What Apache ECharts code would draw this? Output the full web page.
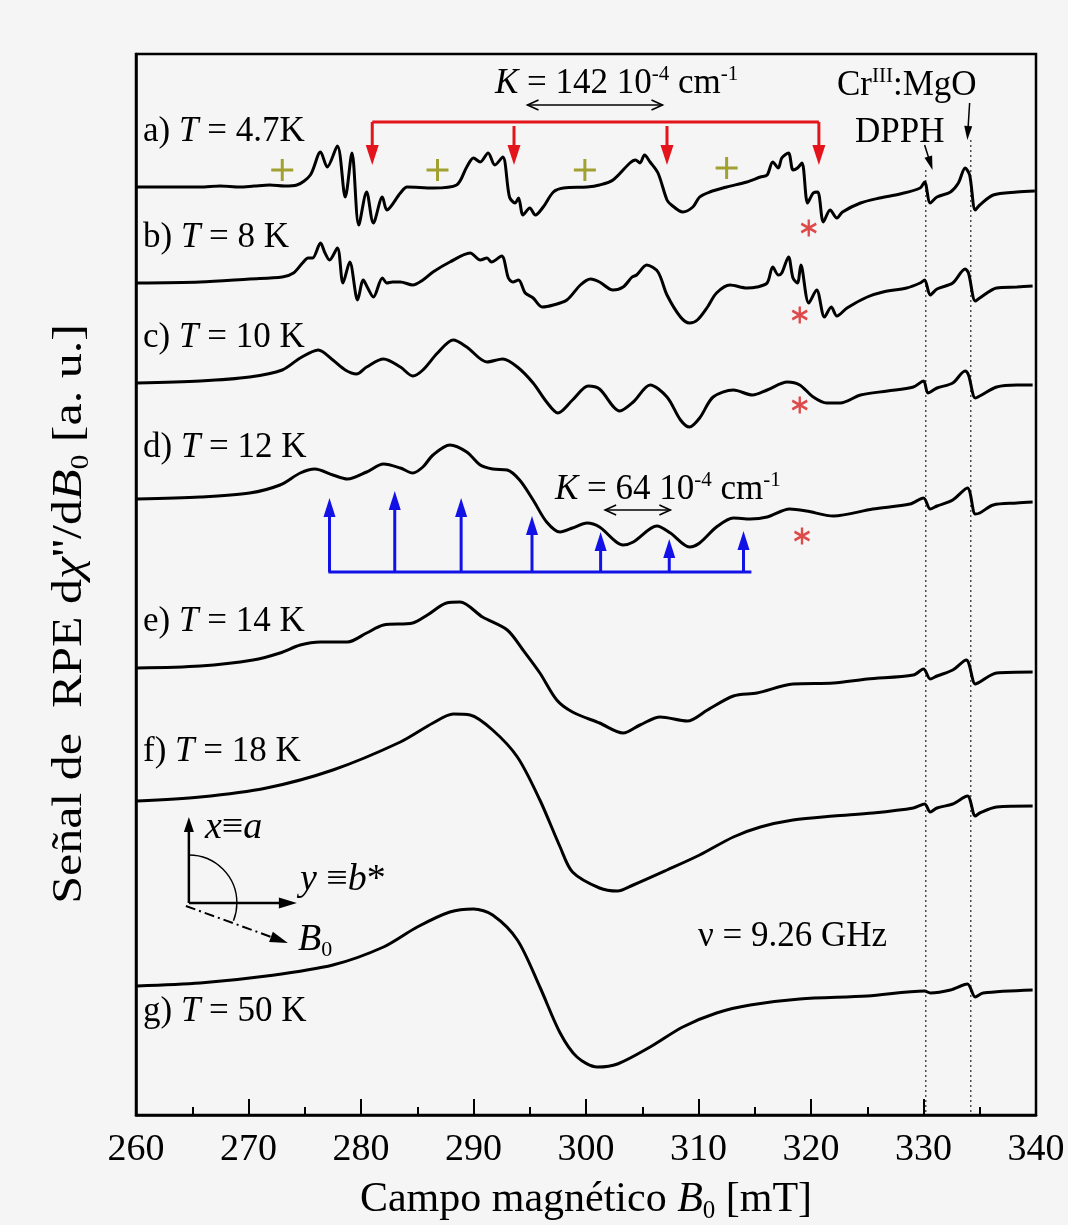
<!DOCTYPE html>
<html><head><meta charset="utf-8">
<script src="https://cdn.jsdelivr.net/npm/echarts@6/dist/echarts.min.js"></script>
<style>html,body{margin:0;padding:0;background:#f5f5f5}#c{width:1068px;height:1225px}</style>
</head><body><div id="c"></div>
<script>
// ---- data (field B in mT, signal in a.u. relative to each trace's baseline) ----
const xMin = 260, xMax = 340, xStep = 10;
const traceA = [[260.0,0],[265.7,0],[267.5,1],[269.2,0],[270.5,1],[271.9,2],[273.2,1],[274.3,2],[275.5,12],[276.4,35],[277.0,20],[277.9,41],[278.6,-10],[279.2,34],[279.8,-38],[280.5,-5],[281.1,-36],[281.9,-10],[282.3,-23],[283.5,-6],[284.1,0],[286.4,-1],[288.5,2],[289.4,20],[290.0,29],[290.6,25],[291.3,34],[291.9,22],[292.6,30],[293.2,-10],[293.7,-16],[294.0,-11],[294.4,-28],[295.0,-21],[295.5,-28],[296.2,-20],[297.1,-5],[298.0,-1],[300.1,0],[301.2,2],[302.4,7],[303.9,24],[304.4,27],[304.8,24],[305.2,32],[305.7,25],[306.4,14],[307.2,-13],[307.6,-18],[308.6,-25],[309.5,-20],[310.1,-10],[311.0,-5],[312.5,0],[314.3,5],[315.5,10],[316.1,12],[316.6,25],[317.1,19],[317.4,29],[318.0,34],[318.4,17],[318.8,19],[319.2,24],[319.7,-16],[320.2,-6],[320.6,-5],[321.1,-35],[321.7,-23],[322.3,-31],[322.8,-25],[324.4,-16],[326.1,-11],[327.9,-7],[329.7,-1],[330.1,5],[330.6,-16],[331.2,-10],[332.4,-5],[333.1,4],[333.7,19],[334.1,12],[334.6,-23],[335.0,-18],[336.2,-8],[338.3,-5],[339.9,-4]];
const traceB = [[260.1,0],[265.7,1],[270.1,4],[273.0,6],[274.0,10],[274.8,20],[275.3,25],[275.7,25],[276.4,40],[276.8,30],[277.2,23],[277.9,35],[278.4,0],[279.0,21],[279.7,-17],[280.2,3],[280.6,-5],[281.1,-14],[281.9,5],[282.3,0],[282.8,1],[283.5,1],[284.6,-2],[285.5,3],[286.4,11],[287.9,21],[289.7,30],[290.6,23],[291.2,25],[291.6,21],[292.5,27],[293.1,5],[293.5,1],[294.0,3],[294.6,-10],[295.3,-15],[296.1,-24],[297.1,-22],[298.3,-17],[299.5,-2],[300.4,4],[301.2,1],[302.4,-7],[303.3,-4],[304.1,6],[304.5,8],[305.4,18],[306.4,11],[307.2,-12],[308.4,-34],[309.2,-40],[309.9,-37],[310.8,-24],[311.6,-10],[312.8,-2],[314.3,-5],[315.2,-4],[316.1,0],[316.6,16],[317.1,8],[317.4,10],[318.0,26],[318.4,5],[318.8,0],[319.1,18],[319.8,-20],[320.5,-7],[321.2,-34],[321.8,-24],[322.3,-33],[323.2,-25],[325.0,-14],[326.4,-9],[328.5,-5],[329.7,0],[330.1,3],[330.6,-12],[331.2,-6],[332.6,0],[333.7,14],[334.0,10],[334.6,-18],[335.0,-15],[336.5,-5],[338.3,-4],[339.7,-3]];
const traceC = [[260.1,0],[265.7,2],[270.1,6],[273.0,13],[274.6,25],[276.2,33],[277.5,23],[278.6,13],[279.6,9],[280.5,16],[282.0,24],[283.5,16],[284.6,7],[285.5,13],[286.8,30],[288.2,43],[289.4,36],[291.2,21],[292.6,24],[293.9,16],[295.3,0],[296.5,-19],[297.5,-30],[298.8,-17],[300.2,-3],[301.2,-6],[303.0,-28],[304.2,-19],[305.7,-2],[307.2,-14],[308.4,-37],[309.2,-44],[310.1,-35],[311.3,-14],[313.1,-7],[314.8,-12],[316.1,-7],[317.9,1],[319.0,-2],[320.2,-14],[321.4,-20],[322.6,-20],[324.4,-12],[326.8,-8],[329.1,-4],[330.0,2],[330.4,-10],[331.2,-5],[332.6,0],[333.7,12],[334.0,8],[334.6,-15],[335.0,-13],[336.5,-4],[338.3,-2],[339.7,-2]];
const traceD = [[260.1,0],[265.7,2],[270.1,6],[272.8,14],[274.6,26],[275.9,30],[277.5,24],[278.8,20],[280.5,27],[282.0,35],[283.5,31],[284.6,26],[285.5,32],[286.4,44],[287.9,54],[289.4,47],[290.6,34],[291.7,30],[293.0,29],[294.1,19],[295.3,-1],[296.5,-23],[297.7,-33],[298.8,-29],[300.1,-24],[301.2,-28],[303.3,-46],[304.2,-43],[306.3,-27],[307.5,-34],[309.2,-48],[310.1,-44],[311.6,-28],[313.1,-19],[314.6,-20],[316.1,-18],[318.1,-10],[319.6,-12],[322.0,-17],[325.5,-10],[328.8,-5],[330.0,1],[330.6,-10],[331.2,-7],[332.6,-1],[333.9,11],[334.6,-15],[335.0,-14],[336.2,-6],[338.3,-4],[339.7,-3]];
const traceE = [[260.1,0],[265.7,2],[270.4,8],[272.8,15],[274.6,23],[276.4,26],[278.8,26],[280.5,35],[282.0,43],[284.6,45],[285.9,53],[287.6,65],[288.8,66],[290.8,51],[293.0,38],[294.4,18],[295.9,-5],[297.4,-32],[298.8,-44],[301.2,-55],[303.3,-65],[304.8,-57],[306.6,-49],[309.0,-53],[310.8,-42],[313.1,-28],[315.2,-25],[318.4,-16],[322.0,-15],[325.0,-11],[329.1,-7],[330.0,-1],[330.6,-11],[331.2,-8],[332.6,-2],[333.8,8],[334.6,-16],[335.0,-14],[336.5,-5],[339.7,-4]];
const traceF = [[260.1,0],[265.7,4],[271.6,13],[277.5,31],[283.5,59],[286.4,78],[288.2,87],[289.7,86],[291.7,71],[293.9,44],[295.9,1],[297.7,-46],[298.8,-71],[301.2,-87],[302.8,-90],[304.2,-84],[307.2,-69],[310.1,-54],[313.1,-36],[315.5,-26],[318.4,-19],[322.0,-15],[325.5,-12],[329.1,-7],[330.1,-3],[330.6,-11],[331.2,-7],[332.6,-3],[333.9,5],[334.6,-15],[335.0,-12],[336.5,-6],[339.7,-5]];
const traceG = [[260.1,0],[265.7,3],[271.6,10],[277.5,21],[282.0,39],[285.0,59],[287.9,74],[290.0,77],[291.7,71],[293.9,46],[295.9,-1],[297.7,-47],[299.2,-71],[301.0,-81],[302.8,-78],[305.7,-61],[308.6,-41],[311.6,-27],[314.6,-19],[319.0,-13],[325.0,-10],[330.1,-5],[330.6,-7],[332.4,-4],[333.9,2],[334.6,-11],[335.3,-7],[339.7,-4]];
const traces = [traceA, traceB, traceC, traceD, traceE, traceF, traceG];
const offsets = [928, 832, 732, 616, 447, 314, 129];
const letters = ['a', 'b', 'c', 'd', 'e', 'f', 'g'];
const temps = ['4.7K', '8 K', '10 K', '12 K', '14 K', '18 K', '50 K'];
// hyperfine markers
const redArrowsB = [281.0, 293.6, 307.2, 320.7];
const plusB = [273.0, 286.8, 299.9, 312.5];
const plusV = [945, 945, 945, 947];
const starB = [319.8, 319.0, 319.0, 319.2];
const starV = [887, 800, 710, 579];
const blueSticksB = [277.2, 283.0, 288.9, 295.2, 301.3, 307.4, 314.0];
const blueSticksH = [74, 81, 74, 56, 40, 33, 41];
const dpphB = 330.2, crB = 334.2;

const FF = "'Liberation Serif','Times New Roman',serif";
const chart = echarts.init(document.getElementById('c'));
const series = traces.map((t, i) => ({
  type: 'line', data: t.map(p => [p[0], p[1] + offsets[i]]), symbol: 'none', smooth: 0.3,
  lineStyle: { color: '#000', width: 3 }, silent: true, z: 3
}));
series.push({
  type: 'scatter', data: plusB.map((b, i) => [b, plusV[i]]), symbol: 'path://M0,-10L0,10M-10,0L10,0',
  symbolSize: 22, itemStyle: { color: 'rgba(0,0,0,0)', borderColor: '#8c8c00', borderWidth: 3 }, silent: true, z: 4
});
series.push({
  type: 'scatter', data: starB.map((b, i) => [b, starV[i]]), symbol: 'path://M0,-10L0,10M-8.66,-5L8.66,5M-8.66,5L8.66,-5',
  symbolSize: [15, 17], itemStyle: { color: 'rgba(0,0,0,0)', borderColor: '#d81e1e', borderWidth: 2.5 }, silent: true, z: 4
});
chart.setOption({
  backgroundColor: '#f5f5f5',
  animation: false,
  grid: { left: 136, right: 32, top: 54, bottom: 110, show: true, borderColor: '#000', borderWidth: 2.5, backgroundColor: 'rgba(0,0,0,0)' },
  xAxis: {
    type: 'value', min: xMin, max: xMax, interval: xStep,
    axisLine: { lineStyle: { color: '#000', width: 2.5 } },
    axisTick: { inside: true, length: 16, lineStyle: { color: '#000', width: 2 } },
    minorTick: { show: true, splitNumber: 2, length: 8, lineStyle: { color: '#000', width: 2 } },
    splitLine: { show: false }, minorSplitLine: { show: false },
    axisLabel: { fontSize: 38, fontFamily: FF, color: '#000', margin: 16 }
  },
  yAxis: {
    type: 'value', min: 0, max: 1061,
    axisLine: { show: true, lineStyle: { color: '#000', width: 2.5 } },
    axisTick: { show: false }, axisLabel: { show: false }, splitLine: { show: false }
  },
  series
});

const P = (b, v) => chart.convertToPixel({ xAxisIndex: 0, yAxisIndex: 0 }, [b, v]);
const G = [];
function arrow(from, tip, color, w, len, wid, dash) {
  const ang = Math.atan2(tip[1] - from[1], tip[0] - from[0]);
  const c = Math.cos(ang), s = Math.sin(ang);
  const bx = tip[0] - len * c, by = tip[1] - len * s;
  const nx = -s * wid / 2, ny = c * wid / 2;
  const ex = tip[0] - len * 0.6 * c, ey = tip[1] - len * 0.6 * s;
  G.push({ type: 'line', z: 100, shape: { x1: from[0], y1: from[1], x2: ex, y2: ey }, style: { stroke: color, lineWidth: w, lineDash: dash || null } });
  G.push({ type: 'polygon', z: 101, shape: { points: [tip, [bx + nx, by + ny], [bx - nx, by - ny]] }, style: { fill: color } });
}
function dblArrow(a, b, color, w) {
  G.push({ type: 'line', z: 100, shape: { x1: a[0], y1: a[1], x2: b[0], y2: b[1] }, style: { stroke: color, lineWidth: w } });
  [[a, 1], [b, -1]].forEach(([p, d]) => {
    G.push({ type: 'polyline', z: 100, shape: { points: [[p[0] + d * 11, p[1] - 5], p, [p[0] + d * 11, p[1] + 5]] }, style: { stroke: color, lineWidth: w, fill: null } });
  });
}
// red bracket
const RED = '#e3141b';
const r0 = P(redArrowsB[0], 993), r3 = P(redArrowsB[3], 993);
G.push({ type: 'line', z: 100, shape: { x1: r0[0], y1: r0[1], x2: r3[0], y2: r3[1] }, style: { stroke: RED, lineWidth: 3 } });
redArrowsB.forEach((b, i) => {
  const top = (i === 0 || i === 3) ? 993 : 989;
  arrow(P(b, top), P(b, 950), RED, 3, 20, 13);
});
// blue stick diagram
const BLUE = '#1212e6';
const bl = P(277.1, 543), br = P(314.7, 543);
G.push({ type: 'line', z: 100, shape: { x1: bl[0], y1: bl[1], x2: br[0], y2: br[1] }, style: { stroke: BLUE, lineWidth: 3 } });
blueSticksB.forEach((b, i) => arrow(P(b, 543), P(b, 543 + blueSticksH[i]), BLUE, 3, 19, 12));
// K double arrows
dblArrow(P(294.8, 1010), P(306.8, 1010), '#000', 1.6);
dblArrow(P(301.7, 605), P(307.5, 605), '#000', 1.6);
// dotted reference lines
[[dpphB, 945], [crB, 975]].forEach(([b, v]) => {
  const a = P(b, v), z = P(b, 0);
  G.push({ type: 'line', z: 2, shape: { x1: a[0], y1: a[1], x2: z[0], y2: z[1] }, style: { stroke: '#444', lineWidth: 1.4, lineDash: [2, 3] } });
});
arrow(P(330.1, 970), P(330.8, 945), '#000', 1.5, 14, 8);
arrow(P(334.1, 1012), P(333.9, 975), '#000', 1.5, 14, 8);
// inset axes
const o = P(264.7, 212);
arrow(o, [o[0], o[1] - 86], '#000', 2.5, 15, 10);
arrow(o, [o[0] + 108, o[1]], '#000', 2.5, 18, 11);
arrow([o[0] - 3, o[1] + 3], [o[0] + 99, o[1] + 40], '#000', 2, 18, 11, [10, 4, 2, 4]);
G.push({ type: 'arc', z: 100, shape: { cx: o[0], cy: o[1], r: 48, startAngle: -Math.PI / 2, endAngle: 0.38, clockwise: true }, style: { stroke: '#000', lineWidth: 1.4, fill: null } });

// texts
const f = (sz, st) => (st || '') + ' ' + sz + 'px ' + FF;
function T(x, y, text, rich, extra) {
  G.push(Object.assign({ type: 'text', z: 110, x, y, style: Object.assign({ text, rich, fill: '#000', align: 'left', verticalAlign: 'middle', font: f(35) }, (extra && extra.style) || {}) }, (extra && extra.el) || {}));
}
const R35 = { n: { font: f(35), lineHeight: 40 }, i: { font: f(35, 'italic'), lineHeight: 40 }, s: { font: f(21), verticalAlign: 'top', lineHeight: 40 }, b: { font: f(21), verticalAlign: 'bottom', lineHeight: 40 } };
const labelY = [132, 238, 338, 448, 622, 752, 1012];
letters.forEach((l, i) => T(143, labelY[i], '{n|' + l + ') }{i|T}{n| = ' + temps[i] + '}', R35));
T(495, 84, '{i|K}{n| = 142 10}{s|-4}{n| cm}{s|-1}', R35);
T(555, 490, '{i|K}{n| = 64 10}{s|-4}{n| cm}{s|-1}', R35);
T(837, 86, '{n|Cr}{s|III}{n|:MgO}', R35);
T(855, 133, '{n|DPPH}', R35);
T(698, 937, '{n|ν = 9.26 GHz}', R35);
const R38 = { n: { font: f(38), lineHeight: 42 }, i: { font: f(38, 'italic'), lineHeight: 42 }, b: { font: f(22), verticalAlign: 'bottom', lineHeight: 42 } };
T(205, 828, '{i|x}{n|≡}{i|a}', R38);
T(300, 880, '{i|y }{n|≡}{i|b}{n|*}', R38);
T(298, 940, '{i|B}{b|0}', R38);
const R42 = { n: { font: f(42), lineHeight: 48 }, i: { font: f(42, 'italic'), lineHeight: 48 }, b: { font: f(25), verticalAlign: 'bottom', lineHeight: 48 } };
T(586, 1200, '{n|Campo magnético }{i|B}{b|0}{n| [mT]}', R42, { style: { align: 'center' } });
T(70, 614, '{n|Señal de  RPE d}{i|χ}{n|\'\'/d}{i|B}{b|0}{n| [a. u.]}', R42, { style: { align: 'center' }, el: { rotation: Math.PI / 2, scaleX: 1.19 } });

chart.setOption({ graphic: { elements: G } });
</script></body></html>
